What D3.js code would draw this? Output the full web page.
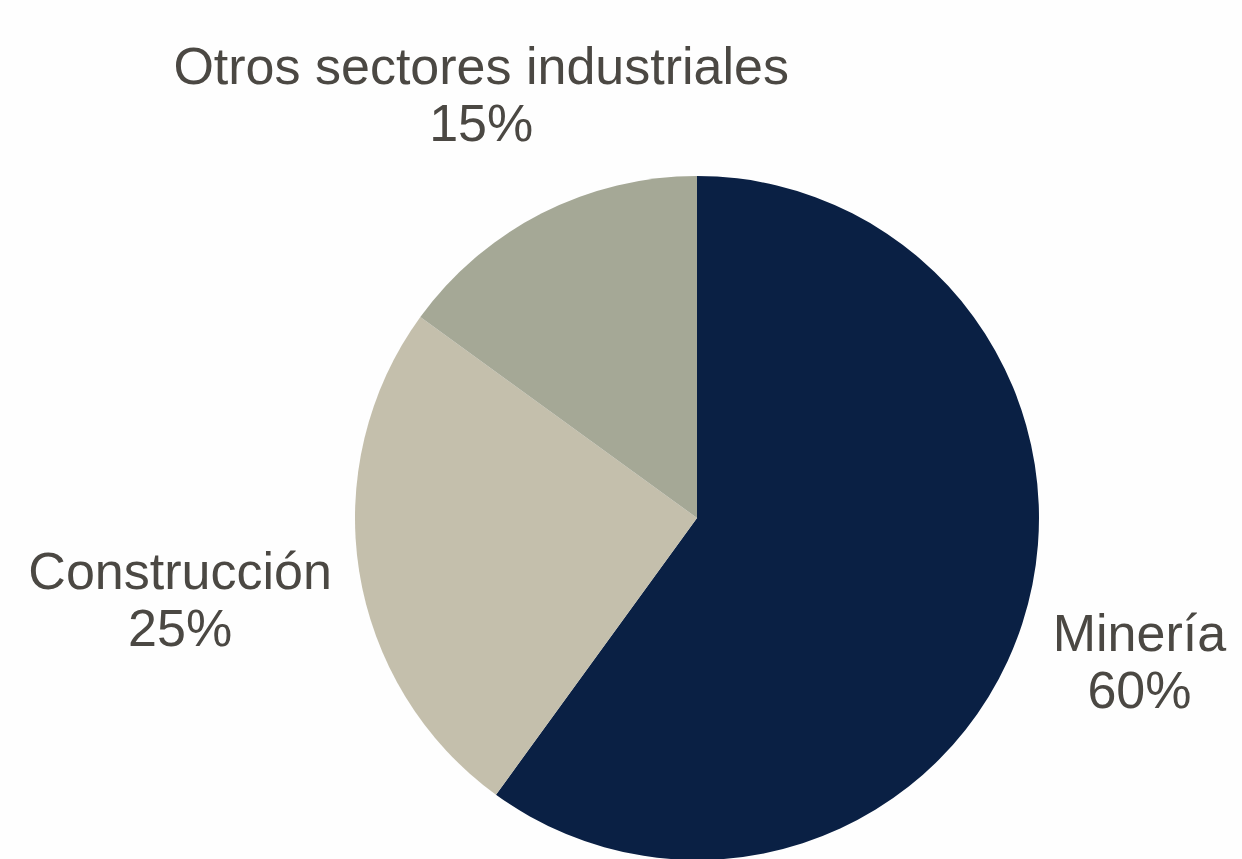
<!DOCTYPE html>
<html>
<head>
<meta charset="utf-8">
<script src="https://cdn.jsdelivr.net/npm/d3@7"></script>
<style>
  html, body { margin: 0; padding: 0; background: #fefefe; }
  text { font-family: "Liberation Sans", Arial, sans-serif; }
</style>
</head>
<body>
<div id="viz"></div>
<script>
// sectors, clockwise from 12 o'clock
var categories = ["Minería", "Construcción", "Otros sectores industriales"];
var shares = [60, 25, 15];
var colours = ["#0a2044", "#c4bfac", "#a5a896"];

var width = 1242;
var height = 859;
var cx = 697, cy = 518;
var radius = 342;
var gap = 24;        // space between pie edge and label box
var fontSize = 52;

var svg = d3.select("#viz")
  .append("svg")
  .attr("width", width)
  .attr("height", height);

var g = svg.append("g")
  .attr("transform", "translate(" + cx + "," + cy + ")");

var pie = d3.pie().sort(null).value(function(d){ return d.value; });
var arc = d3.arc().innerRadius(0).outerRadius(radius);

var data = categories.map(function(c, i){
  return { key: c, value: shares[i], colour: colours[i] };
});
var arcs = pie(data);

g.selectAll(".slice")
  .data(arcs)
  .enter()
  .append("path")
  .attr("class", "slice")
  .attr("d", arc)
  .attr("fill", function(d){ return d.data.colour; });

// labels: two lines, pushed out along the mid angle until the box clears the pie
var labels = g.selectAll(".label")
  .data(arcs)
  .enter()
  .append("text")
  .attr("class", "label")
  .attr("text-anchor", "middle")
  .style("font-size", fontSize + "px")
  .style("fill", "#4b4843");

labels.append("tspan")
  .attr("x", 0)
  .attr("y", 0)
  .text(function(d){ return d.data.key; });
labels.append("tspan")
  .attr("x", 0)
  .attr("dy", fontSize * 1.1)
  .text(function(d){ return d.data.value + "%"; });

function nearest(b, ox, oy){
  var x0 = ox + b.x, x1 = x0 + b.width;
  var y0 = oy + b.y, y1 = y0 + b.height;
  var nx = Math.max(x0, Math.min(0, x1));
  var ny = Math.max(y0, Math.min(0, y1));
  return Math.sqrt(nx * nx + ny * ny);
}

labels.each(function(d){
  var b = this.getBBox();
  var mid = (d.startAngle + d.endAngle) / 2;
  var ux = Math.sin(mid), uy = -Math.cos(mid);
  var lo = 0, hi = 2000;
  for (var k = 0; k < 50; k++) {
    var m = (lo + hi) / 2;
    // box centre at distance m along the mid angle
    var ox = m * ux - (b.x + b.width / 2);
    var oy = m * uy - (b.y + b.height / 2);
    if (nearest(b, ox, oy) < radius + gap) lo = m; else hi = m;
  }
  var ox = hi * ux - (b.x + b.width / 2);
  var oy = hi * uy - (b.y + b.height / 2);
  d3.select(this).attr("transform", "translate(" + ox + "," + oy + ")");
});
</script>
</body>
</html>
